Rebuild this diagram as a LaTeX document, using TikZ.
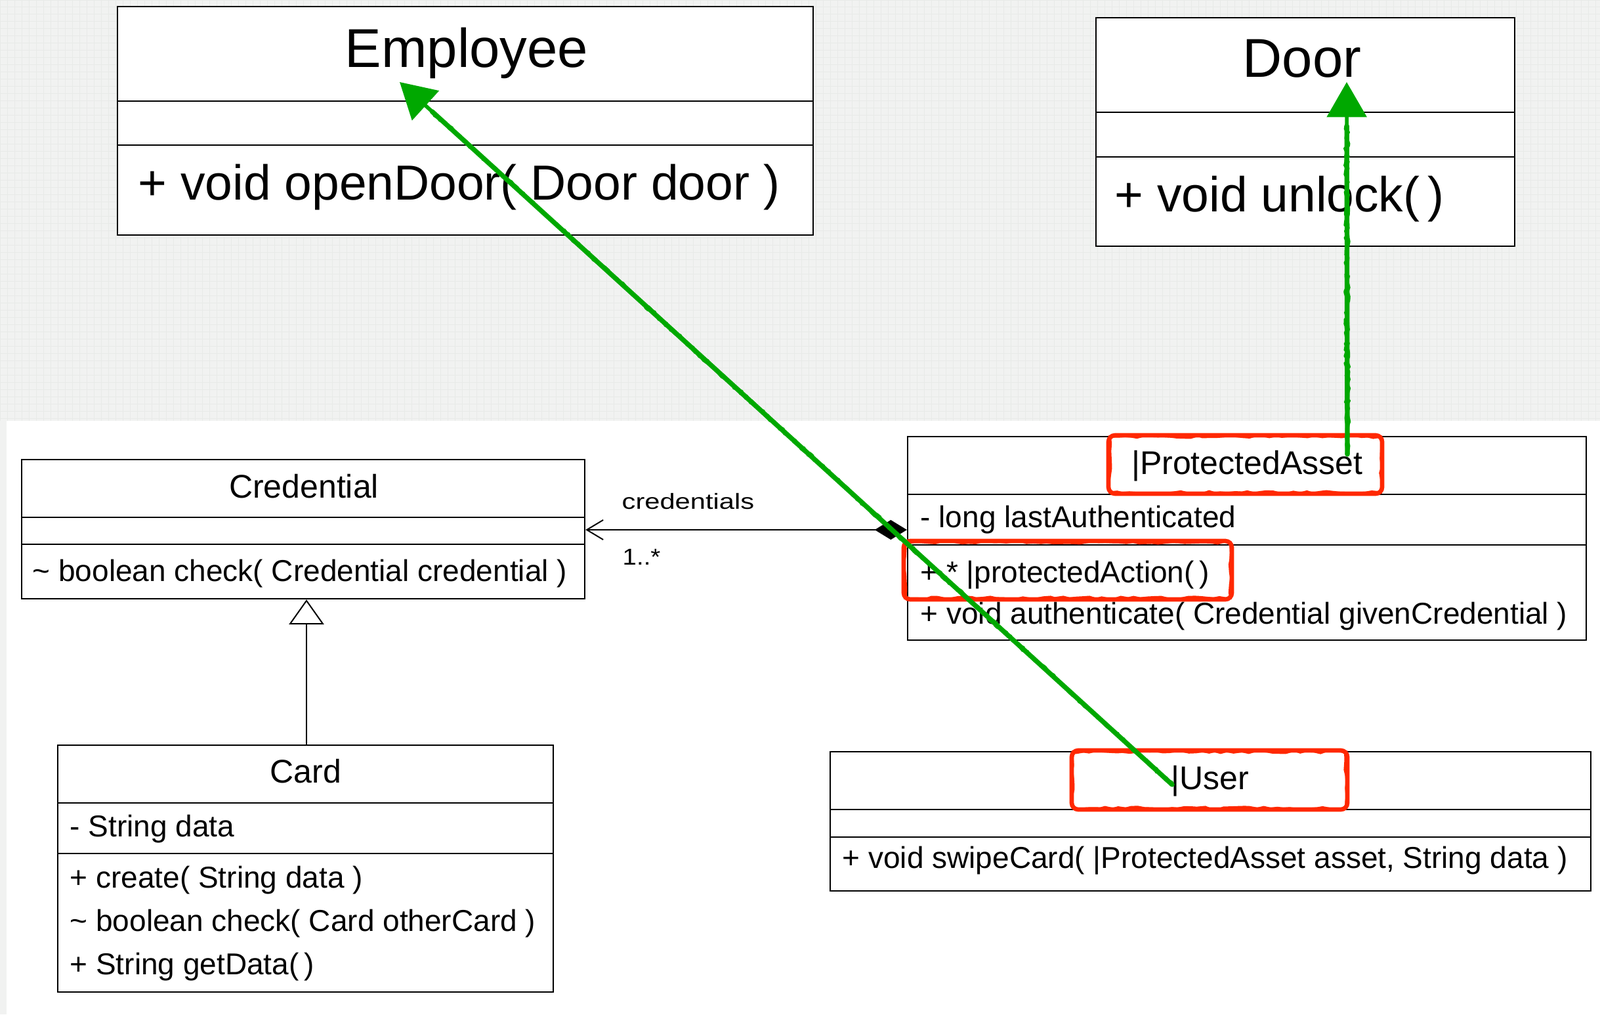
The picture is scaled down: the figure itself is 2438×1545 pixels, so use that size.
\documentclass[tikz,border=0pt]{standalone}
\usepackage{fontspec}
\setmainfont{Liberation Sans}
\usetikzlibrary{arrows.meta,decorations.pathmorphing,calc}
\definecolor{bggray}{RGB}{241,242,241}
\definecolor{gridgray}{RGB}{232,234,232}
\definecolor{penc}{RGB}{0,168,0}
\definecolor{markc}{RGB}{255,40,0}
\begin{document}
\begin{tikzpicture}[x=0.3pt,y=-0.3pt,
  cls/.style={draw=black, line width=0.7pt, fill=white, rectangle, inner sep=0pt},
  sepline/.style={draw=black, line width=0.7pt},
  bigttl/.style={inner sep=0pt, anchor=base, font=\fontsize{25}{30}\selectfont},
  bigmem/.style={inner sep=0pt, anchor=base west, font=\fontsize{22.5}{27}\selectfont},
  ttl/.style={inner sep=0pt, anchor=base, font=\fontsize{15}{18}\selectfont},
  mem/.style={inner sep=0pt, anchor=base west, font=\fontsize{13.8}{16}\selectfont},
  lbl/.style={inner sep=0pt, anchor=base west, font=\fontsize{10}{12}\selectfont},
  conn/.style={draw=black, line width=0.6pt},
  greencore/.style={draw=penc, line width=2.2pt, line cap=round},
  greenrough/.style={draw=penc, line width=0.7pt, line cap=round, line join=round,
    decorate, decoration={random steps, segment length=1.5pt, amplitude=0.55pt}},
  greenhead/.style={draw=penc, fill=penc, line width=1.7pt, -{Triangle[length=16pt,width=18pt]}},
  redpen/.style={draw=markc, line width=2pt, rounded corners=3pt},
  redrough/.style={draw=markc, line width=1pt, decorate,
    decoration={random steps, segment length=3pt, amplitude=0.6pt}}
]
\useasboundingbox (0,0) rectangle (2438,1545);
% background
\fill[bggray] (0,0) rectangle (2438,1545);
\draw[gridgray, line width=0.3pt, step=3.3pt] (0,0) grid (2438,641);
\fill[white] (10,641) rectangle (2438,1545);

% ---------------- Employee
\node[cls, minimum width=318pt, minimum height=104.4pt, line width=0.6pt] (emp) at (709,184) {};
\draw[sepline, line width=0.6pt] (emp.west |- 0,154) -- (emp.east |- 0,154);
\draw[sepline, line width=0.6pt] (emp.west |- 0,221) -- (emp.east |- 0,221);
\node[bigttl] (empT) at (711,103) {Employee};
\node[bigmem] (empM) at (210,305) {+ void openDoor( Door door )};

% ---------------- Door
\node[cls, minimum width=191.4pt, minimum height=104.4pt, line width=0.6pt] (door) at (1989,201) {};
\draw[sepline, line width=0.6pt] (door.west |- 0,171) -- (door.east |- 0,171);
\draw[sepline, line width=0.6pt] (door.west |- 0,239) -- (door.east |- 0,239);
\node[bigttl] (doorT) at (1984,118) {Door};
\node[bigmem] (doorM) at (1698,323) {+ void unlock(\,)};

% ---------------- Credential
\node[cls, minimum width=257.4pt, minimum height=63.6pt] (cred) at (462,806) {};
\draw[sepline] (cred.west |- 0,788) -- (cred.east |- 0,788);
\draw[sepline] (cred.west |- 0,829) -- (cred.east |- 0,829);
\node[ttl] (credT) at (463,758) {Credential};
\node[mem] (credM) at (49,885) {\textasciitilde{} boolean check( Credential credential )};

% ---------------- Card
\node[cls, minimum width=226.5pt, minimum height=112.8pt] (card) at (465.5,1323) {};
\draw[sepline] (card.west |- 0,1223) -- (card.east |- 0,1223);
\draw[sepline] (card.west |- 0,1300) -- (card.east |- 0,1300);
\node[ttl] (cardT) at (466,1192) {Card};
\node[mem] (cardA) at (106,1274) {- String data};
\node[mem] (cardM1) at (106,1352) {+ create( String data )};
\node[mem] (cardM2) at (106,1418) {\textasciitilde{} boolean check( Card otherCard )};
\node[mem] (cardM3) at (106,1484) {+ String getData(\,)};

% ---------------- ProtectedAsset
\node[cls, minimum width=310.2pt, minimum height=93pt] (pa) at (1900,820) {};
\draw[sepline] (pa.west |- 0,753) -- (pa.east |- 0,753);
\draw[sepline] (pa.west |- 0,830) -- (pa.east |- 0,830);
\node[ttl] (paT) at (1900,722) {|ProtectedAsset};
\node[mem] (paA) at (1402,803) {- long lastAuthenticated};
\node[mem] (paM1) at (1402,887) {+ * |protectedAction(\,)};
\node[mem] (paM2) at (1402,950) {+ void authenticate( Credential givenCredential )};

% ---------------- User
\node[cls, minimum width=347.7pt, minimum height=63.6pt] (user) at (1844.5,1251) {};
\draw[sepline] (user.west |- 0,1233) -- (user.east |- 0,1233);
\draw[sepline] (user.west |- 0,1275) -- (user.east |- 0,1275);
\node[ttl] (userT) at (1844,1202) {|User};
\node[mem] (userM) at (1283,1322) {+ void swipeCard( |ProtectedAsset asset, String data )};

% ---------------- UML connectors
\draw[conn, {Diamond[length=14.7pt,width=9pt]}-{Straight Barb[length=7.5pt,width=9pt]}]
  (pa.west |- 0,807) -- (cred.east |- 0,807);
\node[lbl] (lblRole) at (947,775) {\scalebox{1.25}[1]{credentials}};
\node[lbl] (lblMult) at (948,860) {\fontsize{10.5}{12}\selectfont\scalebox{1.1}[1]{1..*}};
\draw[conn, -{Triangle[open, length=11.4pt, width=16pt, fill=white]}]
  (card.north -| 467,0) -- (cred.south -| 467,0);

% ---------------- red highlight boxes
\draw[redpen] (1689,663) rectangle (2106,752);
\draw[redrough] (1691,665) rectangle (2104,750);
\draw[redpen] (1377,824) rectangle (1877,913);
\draw[redrough] (1379,826) rectangle (1875,911);
\draw[redpen] (1633,1143) rectangle (2053,1233);
\draw[redrough] (1635,1145) rectangle (2051,1231);

% ---------------- green hand-drawn arrows
\coordinate (uStart) at (1786,1195);
\coordinate (empTip) at (609,125);
\coordinate (paStart) at (2053,692);
\coordinate (doorTip) at (2052,125);
\draw[greencore] (uStart) -- ($(empTip)!20pt!(uStart)$);
\draw[greenrough] ([xshift=0.7pt]uStart) -- ($(empTip)!20pt!(uStart)+(0.7pt,0)$);
\draw[greenrough] ([xshift=-0.7pt]uStart) -- ($(empTip)!20pt!(uStart)+(-0.7pt,0)$);
\draw[greenhead] ($(empTip)!40pt!(uStart)$) -- (empTip);
\draw[greencore] (paStart) -- ($(doorTip)!20pt!(paStart)$);
\draw[greenrough] ([xshift=0.7pt]paStart) -- ($(doorTip)!20pt!(paStart)+(0.7pt,0)$);
\draw[greenrough] ([xshift=-0.7pt]paStart) -- ($(doorTip)!20pt!(paStart)+(-0.7pt,0)$);
\draw[greenhead] ($(doorTip)!40pt!(paStart)$) -- (doorTip);
\end{tikzpicture}
\end{document}
